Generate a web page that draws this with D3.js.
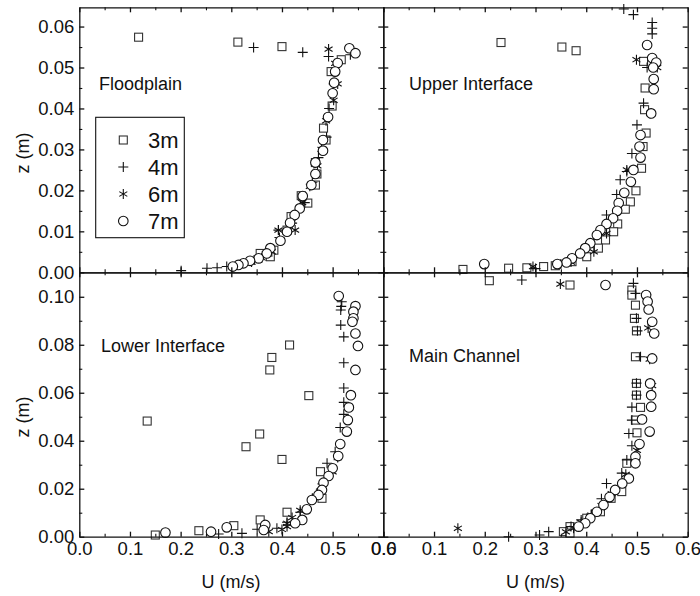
<!DOCTYPE html>
<html>
<head>
<meta charset="utf-8">
<script src="https://cdn.jsdelivr.net/npm/d3@7/dist/d3.min.js"></script>
<style>
  body { margin: 0; background: #fff; }
  svg text { font-family: "Liberation Sans", Arial, sans-serif; fill: #111; }
</style>
</head>
<body>
<svg id="chart" width="700" height="596"></svg>
<script>
// velocity profiles [U (m/s), z (m)]
const fp3m = [[0.117,0.0574],[0.313,0.0562],[0.400,0.0551],[0.517,0.0519],[0.497,0.0490],[0.499,0.0406],[0.482,0.0352],[0.487,0.0323],[0.466,0.0268],[0.469,0.0240],[0.466,0.0213],[0.438,0.0187],[0.451,0.0169],[0.418,0.0136],[0.410,0.0103],[0.384,0.0054],[0.377,0.0038],[0.357,0.0046]];
const fp4m = [[0.201,0.0004],[0.252,0.0010],[0.272,0.0011],[0.291,0.0014],[0.344,0.0549],[0.441,0.0537],[0.492,0.0527],[0.535,0.0531],[0.502,0.0460],[0.493,0.0400],[0.488,0.0330],[0.472,0.0280],[0.460,0.0220],[0.445,0.0170],[0.420,0.0120],[0.393,0.0103],[0.395,0.0085],[0.370,0.0050],[0.345,0.0030]];
const fp6m = [[0.492,0.0545],[0.505,0.0510],[0.510,0.0460],[0.502,0.0420],[0.487,0.0370],[0.478,0.0300],[0.470,0.0260],[0.455,0.0210],[0.440,0.0170],[0.426,0.0103],[0.393,0.0103],[0.380,0.0050],[0.360,0.0035],[0.340,0.0025]];
const fp7m = [[0.533,0.0547],[0.545,0.0535],[0.510,0.0511],[0.505,0.0490],[0.503,0.0463],[0.500,0.0437],[0.491,0.0379],[0.481,0.0323],[0.481,0.0297],[0.466,0.0268],[0.466,0.0240],[0.458,0.0213],[0.441,0.0186],[0.435,0.0156],[0.425,0.0140],[0.416,0.0121],[0.410,0.0099],[0.397,0.0077],[0.377,0.0059],[0.370,0.0046],[0.354,0.0034],[0.337,0.0028],[0.324,0.0022],[0.314,0.0018],[0.303,0.0014]];

const ui3m = [[0.232,0.0561],[0.352,0.0550],[0.380,0.0541],[0.513,0.0515],[0.516,0.0450],[0.515,0.0397],[0.518,0.0340],[0.512,0.0307],[0.509,0.0254],[0.498,0.0199],[0.487,0.0172],[0.477,0.0154],[0.462,0.0118],[0.454,0.0099],[0.438,0.0079],[0.424,0.0059],[0.401,0.0038],[0.372,0.0026],[0.339,0.0016],[0.316,0.0014],[0.283,0.0011],[0.247,0.0010],[0.157,0.0007]];
const ui4m = [[0.474,0.0643],[0.493,0.0629],[0.530,0.0610],[0.530,0.0596],[0.530,0.0582],[0.520,0.0500],[0.513,0.0413],[0.500,0.0360],[0.490,0.0290],[0.480,0.0246],[0.467,0.0226],[0.460,0.0190],[0.440,0.0140],[0.415,0.0080],[0.390,0.0050],[0.350,0.0020],[0.300,0.0009]];
const ui6m = [[0.499,0.0519],[0.540,0.0500],[0.526,0.0388],[0.480,0.0250],[0.440,0.0095],[0.415,0.0050],[0.370,0.0025],[0.295,0.0014]];
const ui7m = [[0.199,0.0020],[0.520,0.0555],[0.530,0.0523],[0.538,0.0512],[0.532,0.0500],[0.533,0.0472],[0.533,0.0447],[0.528,0.0388],[0.507,0.0335],[0.505,0.0307],[0.507,0.0280],[0.493,0.0250],[0.488,0.0221],[0.475,0.0194],[0.464,0.0169],[0.461,0.0150],[0.453,0.0132],[0.440,0.0118],[0.428,0.0103],[0.421,0.0091],[0.408,0.0071],[0.398,0.0059],[0.388,0.0046],[0.372,0.0034],[0.361,0.0024],[0.343,0.0020]];

const li3m = [[0.134,0.0482],[0.415,0.0799],[0.380,0.0747],[0.376,0.0695],[0.453,0.0588],[0.356,0.0428],[0.329,0.0375],[0.400,0.0322],[0.476,0.0271],[0.479,0.0160],[0.410,0.0102],[0.357,0.0070],[0.305,0.0046],[0.236,0.0025],[0.150,0.0007]];
const li4m = [[0.518,0.0979],[0.517,0.0960],[0.516,0.0945],[0.516,0.0882],[0.522,0.0833],[0.522,0.0725],[0.522,0.0620],[0.522,0.0560],[0.522,0.0510],[0.515,0.0455],[0.505,0.0354],[0.489,0.0306],[0.480,0.0220],[0.460,0.0160],[0.436,0.0102],[0.410,0.0060],[0.390,0.0035],[0.351,0.0031],[0.321,0.0014],[0.275,0.0011]];
const li6m = [[0.510,0.0330],[0.500,0.0270],[0.475,0.0190],[0.460,0.0155],[0.436,0.0110],[0.420,0.0080],[0.410,0.0056],[0.410,0.0042],[0.400,0.0030],[0.374,0.0021]];
const li7m = [[0.512,0.1003],[0.545,0.0961],[0.541,0.0938],[0.541,0.0910],[0.539,0.0896],[0.545,0.0847],[0.550,0.0795],[0.545,0.0695],[0.536,0.0590],[0.532,0.0539],[0.530,0.0486],[0.528,0.0438],[0.515,0.0386],[0.511,0.0336],[0.500,0.0285],[0.492,0.0253],[0.482,0.0225],[0.479,0.0195],[0.472,0.0174],[0.459,0.0153],[0.449,0.0114],[0.440,0.0070],[0.426,0.0056],[0.367,0.0049],[0.364,0.0028],[0.291,0.0039],[0.260,0.0021],[0.170,0.0017]];

const mc3m = [[0.209,0.1067],[0.368,0.1049],[0.490,0.1028],[0.490,0.1007],[0.497,0.0965],[0.495,0.0910],[0.499,0.0858],[0.497,0.0750],[0.499,0.0639],[0.499,0.0590],[0.507,0.0539],[0.497,0.0486],[0.500,0.0433],[0.480,0.0306],[0.470,0.0188],[0.449,0.0160],[0.428,0.0104],[0.401,0.0077],[0.368,0.0042],[0.355,0.0021],[0.368,0.0015]];
const mc4m = [[0.273,0.1070],[0.493,0.1056],[0.497,0.1014],[0.499,0.0910],[0.501,0.0858],[0.507,0.0750],[0.499,0.0640],[0.499,0.0590],[0.490,0.0540],[0.490,0.0486],[0.484,0.0430],[0.490,0.0379],[0.480,0.0320],[0.470,0.0265],[0.440,0.0222],[0.430,0.0158],[0.410,0.0094],[0.390,0.0070],[0.370,0.0042],[0.326,0.0021],[0.308,0.0007],[0.247,0.0000]];
const mc6m = [[0.349,0.1053],[0.147,0.0035],[0.520,0.1000],[0.522,0.0870],[0.525,0.0740],[0.530,0.0630],[0.527,0.0590],[0.500,0.0360],[0.478,0.0260],[0.450,0.0180],[0.430,0.0130],[0.410,0.0090],[0.390,0.0060],[0.375,0.0035],[0.360,0.0020]];
const mc7m = [[0.438,0.1049],[0.518,0.1007],[0.521,0.0980],[0.523,0.0947],[0.530,0.0896],[0.534,0.0847],[0.530,0.0743],[0.526,0.0639],[0.528,0.0590],[0.528,0.0542],[0.510,0.0489],[0.525,0.0438],[0.505,0.0386],[0.497,0.0333],[0.497,0.0306],[0.484,0.0243],[0.471,0.0222],[0.457,0.0195],[0.446,0.0165],[0.434,0.0132],[0.421,0.0104],[0.408,0.0077],[0.398,0.0056],[0.385,0.0042]];

const seriesNames = ['3m', '4m', '6m', '7m'];
const panelTitles = ['Floodplain', 'Upper Interface', 'Lower Interface', 'Main Channel'];
const xTicks = [0, 0.1, 0.2, 0.3, 0.4, 0.5, 0.6];
const zTicksTop = [0, 0.01, 0.02, 0.03, 0.04, 0.05, 0.06];
const zTicksBottom = [0, 0.02, 0.04, 0.06, 0.08, 0.10];

const svg = d3.select('#chart');
svg.append('rect').attr('width', 700).attr('height', 596).attr('fill', '#fff');

const xL = 79.3, xM = 383.3, xR = 687.7;
const yT = 7.3, yM = 272.3, yB = 536.7;

const panels = [
  { title: panelTitles[0], data: [fp3m, fp4m, fp6m, fp7m], x0: xL, x1: xM, y0: yT, y1: yM, zMax: 0.0647, zTicks: zTicksTop, zMinor: d3.range(0.005, 0.065, 0.01), leftLabels: true, bottomLabels: false, tx: 99, ty: 90, legend: true },
  { title: panelTitles[1], data: [ui3m, ui4m, ui6m, ui7m], x0: xM, x1: xR, y0: yT, y1: yM, zMax: 0.0647, zTicks: zTicksTop, zMinor: d3.range(0.005, 0.065, 0.01), leftLabels: false, bottomLabels: false, tx: 409, ty: 90 },
  { title: panelTitles[2], data: [li3m, li4m, li6m, li7m], x0: xL, x1: xM, y0: yM, y1: yB, zMax: 0.1102, zTicks: zTicksBottom, zMinor: d3.range(0.01, 0.11, 0.02), leftLabels: true, bottomLabels: true, tx: 101, ty: 352 },
  { title: panelTitles[3], data: [mc3m, mc4m, mc6m, mc7m], x0: xM, x1: xR, y0: yM, y1: yB, zMax: 0.1102, zTicks: zTicksBottom, zMinor: d3.range(0.01, 0.11, 0.02), leftLabels: false, bottomLabels: true, tx: 409, ty: 362 }
];

const xMinor = d3.range(0.05, 0.6, 0.1);

// marker drawing
function drawMarker(g, kind, cx, cy) {
  if (kind === 0) {
    g.append('rect').attr('x', cx - 4).attr('y', cy - 4).attr('width', 8).attr('height', 8)
      .attr('fill', '#fff').attr('stroke', '#333').attr('stroke-width', 1.1);
  } else if (kind === 1) {
    g.append('path').attr('d', `M${cx - 5},${cy}H${cx + 5}M${cx},${cy - 5}V${cy + 5}`)
      .attr('stroke', '#111').attr('stroke-width', 1.1).attr('fill', 'none');
  } else if (kind === 2) {
    const r = 5, d = r * 0.8;
    g.append('path').attr('d', `M${cx},${cy - r}V${cy + r}M${cx - d},${cy - d * 0.6}L${cx + d},${cy + d * 0.6}M${cx - d},${cy + d * 0.6}L${cx + d},${cy - d * 0.6}`)
      .attr('stroke', '#111').attr('stroke-width', 1.1).attr('fill', 'none');
  } else {
    g.append('circle').attr('cx', cx).attr('cy', cy).attr('r', 4.8)
      .attr('fill', '#fff').attr('stroke', '#111').attr('stroke-width', 1.1);
  }
}

panels.forEach(p => {
  const x = d3.scaleLinear().domain([0, 0.6]).range([p.x0, p.x1]);
  const y = d3.scaleLinear().domain([0, p.zMax]).range([p.y1, p.y0]);
  const g = svg.append('g');

  // points, circles last
  const pts = g.append('g');
  p.data.forEach((series, k) => {
    series.forEach(d => drawMarker(pts, k, x(d[0]), y(d[1])));
  });

  // axes with inward ticks on all sides
  const fmtX = d3.format('.1f');
  const fmtZ = d3.format('.2f');
  const axes = [
    { ax: d3.axisBottom(x), tr: `translate(0,${p.y1})`, vals: xTicks, minor: xMinor, fmt: p.bottomLabels ? fmtX : () => '' },
    { ax: d3.axisTop(x), tr: `translate(0,${p.y0})`, vals: xTicks, minor: xMinor, fmt: () => '' },
    { ax: d3.axisLeft(y), tr: `translate(${p.x0},0)`, vals: p.zTicks, minor: p.zMinor, fmt: p.leftLabels ? fmtZ : () => '' },
    { ax: d3.axisRight(y), tr: `translate(${p.x1},0)`, vals: p.zTicks, minor: p.zMinor, fmt: () => '' }
  ];
  axes.forEach(a => {
    const major = g.append('g').attr('transform', a.tr)
      .call(a.ax.tickValues(a.vals).tickFormat(a.fmt).tickSize(-5).tickSizeOuter(0).tickPadding(5));
    major.selectAll('path, line').attr('stroke', '#111').attr('stroke-width', 1.3);
    major.selectAll('text').attr('font-size', 18.5).attr('fill', '#111');
    const minorG = g.append('g').attr('transform', a.tr)
      .call(a.ax.tickValues(a.minor).tickFormat('').tickSize(-3).tickSizeOuter(0));
    minorG.select('.domain').remove();
    minorG.selectAll('line').attr('stroke', '#111').attr('stroke-width', 1.1);
  });

  g.append('text').attr('x', p.tx).attr('y', p.ty).attr('font-size', 18).text(p.title);

  if (p.legend) {
    const lg = g.append('g');
    lg.append('rect').attr('x', 95.7).attr('y', 117.3).attr('width', 88.6).attr('height', 120.4)
      .attr('fill', '#fff').attr('stroke', '#111').attr('stroke-width', 1.1);
    seriesNames.forEach((name, k) => {
      const cy = 140 + k * 27;
      drawMarker(lg, k, 123.3, cy);
      lg.append('text').attr('x', 148).attr('y', cy + 7.5).attr('font-size', 22).text(name);
    });
  }
});

// axis titles
svg.append('text').attr('transform', 'translate(29,153) rotate(-90)').attr('text-anchor', 'middle').attr('font-size', 18).text('z (m)');
svg.append('text').attr('transform', 'translate(29,417) rotate(-90)').attr('text-anchor', 'middle').attr('font-size', 18).text('z (m)');
svg.append('text').attr('x', 231).attr('y', 588).attr('text-anchor', 'middle').attr('font-size', 18).text('U (m/s)');
svg.append('text').attr('x', 535.5).attr('y', 588).attr('text-anchor', 'middle').attr('font-size', 18).text('U (m/s)');
</script>
</body>
</html>
